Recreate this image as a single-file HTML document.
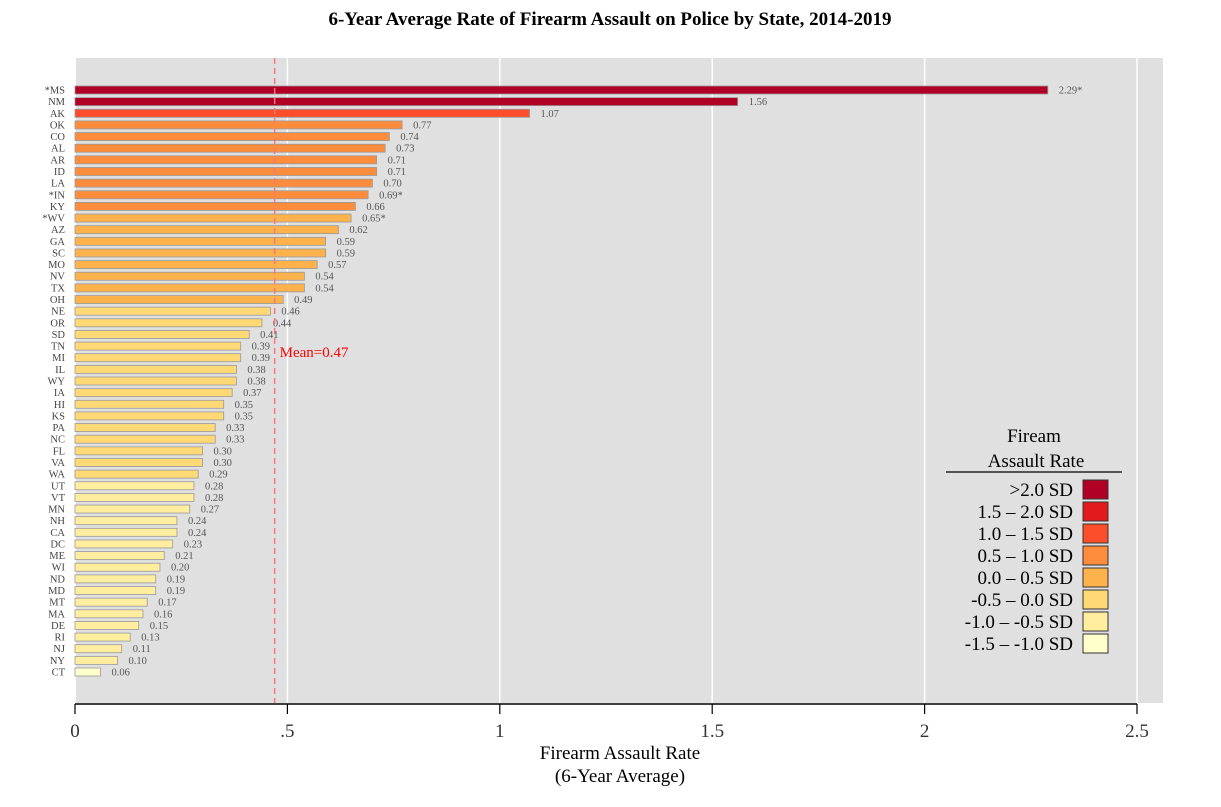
<!DOCTYPE html>
<html><head><meta charset="utf-8"><style>
body{margin:0;background:#fff;font-family:"Liberation Serif",serif;}
svg text{font-family:"Liberation Serif",serif;}
</style></head><body>
<svg id="c" width="1221" height="802" xmlns="http://www.w3.org/2000/svg">
<text x="610" y="25" text-anchor="middle" font-size="19" font-weight="bold">6-Year Average Rate of Firearm Assault on Police by State, 2014-2019</text>
<rect x="76" y="58" width="1087" height="645" fill="#e0e0e0"/>
<g id="grid"></g><g id="bars"></g>
<g id="axis"></g>
<text x="620" y="759" text-anchor="middle" font-size="19">Firearm Assault Rate</text>
<text x="620" y="782" text-anchor="middle" font-size="19">(6-Year Average)</text>
<g id="legend">
<text x="1034" y="442" text-anchor="middle" font-size="19">Fiream</text>
<text x="1036" y="467" text-anchor="middle" font-size="19">Assault Rate</text>
<line x1="946" y1="472" x2="1122" y2="472" stroke="#000" stroke-width="1.2"/>
</g>
</svg>
<script>
const states=["*MS","NM","AK","OK","CO","AL","AR","ID","LA","*IN","KY","*WV","AZ","GA","SC","MO","NV","TX","OH","NE","OR","SD","TN","MI","IL","WY","IA","HI","KS","PA","NC","FL","VA","WA","UT","VT","MN","NH","CA","DC","ME","WI","ND","MD","MT","MA","DE","RI","NJ","NY","CT"];
const values=[2.29,1.56,1.07,0.77,0.74,0.73,0.71,0.71,0.70,0.69,0.66,0.65,0.62,0.59,0.59,0.57,0.54,0.54,0.49,0.46,0.44,0.41,0.39,0.39,0.38,0.38,0.37,0.35,0.35,0.33,0.33,0.30,0.30,0.29,0.28,0.28,0.27,0.24,0.24,0.23,0.21,0.20,0.19,0.19,0.17,0.16,0.15,0.13,0.11,0.10,0.06];
const valueLabels=["2.29*","1.56","1.07","0.77","0.74","0.73","0.71","0.71","0.70","0.69*","0.66","0.65*","0.62","0.59","0.59","0.57","0.54","0.54","0.49","0.46","0.44","0.41","0.39","0.39","0.38","0.38","0.37","0.35","0.35","0.33","0.33","0.30","0.30","0.29","0.28","0.28","0.27","0.24","0.24","0.23","0.21","0.20","0.19","0.19","0.17","0.16","0.15","0.13","0.11","0.10","0.06"];
const sdClass=[0,0,2,3,3,3,3,3,3,3,3,4,4,4,4,4,4,4,4,5,5,5,5,5,5,5,5,5,5,5,5,5,5,5,6,6,6,6,6,6,6,6,6,6,6,6,6,6,6,6,7];
const legendLabels=[">2.0 SD","1.5 – 2.0 SD","1.0 – 1.5 SD","0.5 – 1.0 SD","0.0 – 0.5 SD","-0.5 – 0.0 SD","-1.0 – -0.5 SD","-1.5 – -1.0 SD"];
const legendColors=["#b10026","#e31a1c","#fc4e2a","#fd8d3c","#feb24c","#fed976","#ffeda0","#ffffcc"];
const xTicks=[0,0.5,1,1.5,2,2.5];
const xTickLabels=["0",".5","1","1.5","2","2.5"];
const meanValue=0.47;
const NS="http://www.w3.org/2000/svg";
const x=v=>75+v*424.8;
const y=i=>90+i*11.64;
function mk(tag,attrs,parent,text){const e=document.createElementNS(NS,tag);for(const k in attrs)e.setAttribute(k,attrs[k]);if(text!==undefined)e.textContent=text;parent.appendChild(e);return e;}
const grid=document.getElementById('grid'),bars=document.getElementById('bars'),axis=document.getElementById('axis'),legend=document.getElementById('legend');
xTicks.forEach((t,i)=>{if(t>0){const g=mk('line',{x1:x(t),x2:x(t),y1:58,y2:703,stroke:'#fff','stroke-width':1.5},grid);

}
const tk=mk('line',{x1:x(t),x2:x(t),y1:704,y2:714,stroke:'#000','stroke-width':1.2},axis);


const tl=mk('text',{x:x(t),y:737,'text-anchor':'middle','font-size':19,fill:'#333'},axis,xTickLabels[i]);

});
const al=mk('line',{x1:x(0),x2:x(2.5),y1:704,y2:704,stroke:'#000','stroke-width':1.5},axis);


states.forEach((s,i)=>{const cy=y(i);
const r=mk('rect',{x:x(0),y:cy-4,width:x(values[i])-x(0),height:8,fill:legendColors[sdClass[i]],stroke:'#999','stroke-width':0.8},bars);


const l=mk('text',{x:65,y:cy+3.5,'text-anchor':'end','font-size':10.5,fill:'#444'},bars,s);


const v=mk('text',{x:x(values[i])+11,y:cy+3.5,'font-size':10.5,fill:'#555'},bars,valueLabels[i]);

});
const ml=mk('line',{x1:x(meanValue),x2:x(meanValue),y1:58,y2:703,stroke:'#f87878','stroke-width':1.5,'stroke-dasharray':'6,4'},bars);


const mt=mk('text',{x:x(meanValue)+5,y:357,'font-size':15,fill:'#ff0000'},bars,'Mean='+meanValue);


legendLabels.forEach((lb,i)=>{const ly=480+i*22;
const sw=mk('rect',{x:1083,y:ly,width:25,height:19,fill:legendColors[i],stroke:'#333','stroke-width':1},legend);


const t=mk('text',{x:1073,y:ly+16,'text-anchor':'end','font-size':19},legend,lb);

});
</script>
</body></html>
